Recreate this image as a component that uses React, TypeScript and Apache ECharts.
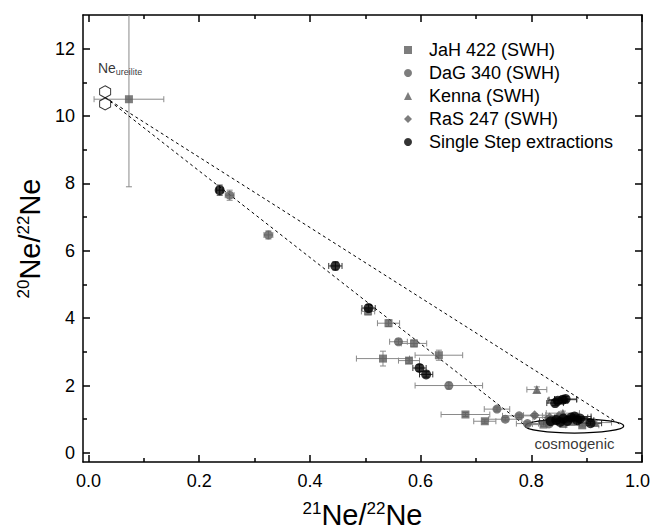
import React, { useEffect, useRef } from 'react';
import * as echarts from 'echarts';

const FONT = '"Liberation Sans", Arial, Helvetica, sans-serif';

const xMajorTicks = [0, 0.2, 0.4, 0.6, 0.8, 1.0];
const xMinorTicks = [0.1, 0.3, 0.5, 0.7, 0.9];
const yMajorTicks = [0, 2, 4, 6, 8, 10, 12];
const yMinorTicks = [1, 3, 5, 7, 9, 11];

// [21Ne/22Ne, 20Ne/22Ne, xErr, yErr]
const jah422 = [
  [0.073, 10.5, 0.063, 2.6],
  [0.505, 4.2, 0.012, 0.1],
  [0.542, 3.85, 0.02, 0.1],
  [0.588, 3.25, 0.023, 0.1],
  [0.633, 2.9, 0.043, 0.15],
  [0.532, 2.8, 0.048, 0.22],
  [0.579, 2.74, 0.019, 0.08],
  [0.681, 1.14, 0.044, 0.06],
  [0.716, 0.94, 0.02, 0.06],
  [0.822, 0.84, 0.03, 0.05],
  [0.858, 0.86, 0.04, 0.05],
  [0.892, 0.82, 0.03, 0.05],
];
const dag340 = [
  [0.255, 7.65, 0.008, 0.15],
  [0.325, 6.47, 0.008, 0.12],
  [0.56, 3.3, 0.016, 0.08],
  [0.651, 2.0, 0.061, 0.1],
  [0.738, 1.3, 0.023, 0.06],
  [0.753, 1.0, 0.03, 0.05],
  [0.778, 1.1, 0.03, 0.05],
  [0.793, 0.87, 0.02, 0.05],
  [0.832, 0.86, 0.03, 0.05],
];
const kenna = [
  [0.81, 1.88, 0.018, 0.08],
  [0.857, 1.18, 0.03, 0.06],
  [0.872, 0.95, 0.04, 0.05],
  [0.915, 0.9, 0.03, 0.05],
];
const ras247 = [
  [0.806, 1.12, 0.02, 0.05],
  [0.833, 1.05, 0.03, 0.05],
  [0.85, 1.1, 0.03, 0.05],
];
const singleStep = [
  [0.237, 7.8, 0.006, 0.15],
  [0.446, 5.55, 0.012, 0.12],
  [0.506, 4.3, 0.012, 0.1],
  [0.598, 2.52, 0.012, 0.1],
  [0.61, 2.33, 0.012, 0.08],
  [0.843, 1.48, 0.015, 0.08],
  [0.848, 1.55, 0.018, 0.08],
  [0.857, 1.58, 0.025, 0.08],
  [0.862, 1.6, 0.02, 0.08],
  [0.835, 0.94, 0.02, 0.05],
  [0.845, 0.98, 0.02, 0.05],
  [0.852, 0.92, 0.03, 0.05],
  [0.858, 1.02, 0.03, 0.05],
  [0.865, 0.95, 0.02, 0.05],
  [0.872, 1.05, 0.03, 0.05],
  [0.878, 1.08, 0.03, 0.05],
  [0.883, 0.97, 0.03, 0.05],
  [0.888, 1.02, 0.02, 0.05],
  [0.907, 0.88, 0.02, 0.05],
];

const ureiliteEndmember = [
  [0.03, 10.72],
  [0.03, 10.36],
];
const mixingUpper = [
  [0.03, 10.55],
  [0.963, 0.82],
];
const mixingLower = [
  [0.03, 10.55],
  [0.79, 0.8],
];
// center x, center y, radius x, radius y
const cosmogenicEllipse = [[0.878, 0.8, 0.089, 0.21]];
const ureiliteLabelPos = [[0.017, 11.42]];
const cosmogenicLabelPos = [[0.878, 0.28]];

const legendNames = [
  'JaH 422 (SWH)',
  'DaG 340 (SWH)',
  'Kenna (SWH)',
  'RaS 247 (SWH)',
  'Single Step extractions',
];

const GRAY = '#5c5c5c';
const ERR_GRAY = '#8a8a8a';

function errorSeries(data: number[][], color: string) {
  return {
    type: 'custom',
    silent: true,
    clip: true,
    z: 1,
    encode: { x: 0, y: 1 },
    data,
    renderItem: (_p: any, api: any) => {
      const x = api.value(0);
      const y = api.value(1);
      const ex = api.value(2);
      const ey = api.value(3);
      const c = 3;
      const style = { stroke: color, lineWidth: 1, fill: null };
      const l = api.coord([x - ex, y]);
      const r = api.coord([x + ex, y]);
      const t = api.coord([x, y + ey]);
      const b = api.coord([x, y - ey]);
      const children: any[] = [
        { type: 'line', shape: { x1: l[0], y1: l[1], x2: r[0], y2: r[1] }, style },
        { type: 'line', shape: { x1: l[0], y1: l[1] - c, x2: l[0], y2: l[1] + c }, style },
        { type: 'line', shape: { x1: r[0], y1: r[1] - c, x2: r[0], y2: r[1] + c }, style },
        { type: 'line', shape: { x1: t[0], y1: t[1], x2: b[0], y2: b[1] }, style },
        { type: 'line', shape: { x1: t[0] - c, y1: t[1], x2: t[0] + c, y2: t[1] }, style },
        { type: 'line', shape: { x1: b[0] - c, y1: b[1], x2: b[0] + c, y2: b[1] }, style },
      ];
      return { type: 'group', children };
    },
  };
}

function scatter(name: string, data: number[][], symbol: string, size: number, color: string) {
  return {
    type: 'scatter',
    name,
    symbol,
    symbolSize: size,
    z: 3,
    itemStyle: { color },
    data: data.map((d) => [d[0], d[1]]),
  };
}

const axisLineStyle = { color: '#000', width: 1.5 };

const nameRich = {
  n: { fontSize: 29, fontFamily: FONT, color: '#000' },
  s: { fontSize: 17, fontFamily: FONT, color: '#000', padding: [0, 0, 12, 0] },
};

function xAxisDef(position: string, ticks: number[], len: number, labels: boolean, line: boolean, nameOn: boolean) {
  return {
    type: 'value',
    min: -0.01,
    max: 1.0,
    position,
    splitLine: { show: false },
    axisLine: { show: line, onZero: false, lineStyle: axisLineStyle },
    axisTick: { show: true, inside: true, length: len, customValues: ticks, lineStyle: { color: '#000', width: 1.5 } },
    axisLabel: labels
      ? {
          show: true,
          customValues: ticks,
          formatter: (v: number) => (v >= 1 ? '{r|' + v.toFixed(1) + '}' : v.toFixed(1)),
          fontSize: 18,
          color: '#000',
          fontFamily: FONT,
          margin: 10,
          rich: { r: { fontSize: 18, color: '#000', fontFamily: FONT, padding: [0, 9, 0, 0] } },
        }
      : { show: false },
    name: nameOn ? '{s|21}{n|Ne/}{s|22}{n|Ne}' : '',
    nameLocation: 'middle',
    nameGap: 38,
    nameTextStyle: { fontFamily: FONT, color: '#000', rich: nameRich },
  };
}

function yAxisDef(position: string, ticks: number[], len: number, labels: boolean, line: boolean, nameOn: boolean) {
  return {
    type: 'value',
    min: -0.27,
    max: 13,
    position,
    splitLine: { show: false },
    axisLine: { show: line, onZero: false, lineStyle: axisLineStyle },
    axisTick: { show: true, inside: true, length: len, customValues: ticks, lineStyle: { color: '#000', width: 1.5 } },
    axisLabel: labels
      ? { show: true, customValues: ticks, formatter: (v: number) => String(v), fontSize: 18, color: '#000', fontFamily: FONT, margin: 8 }
      : { show: false },
    name: nameOn ? '{s|20}{n|Ne/}{s|22}{n|Ne}' : '',
    nameLocation: 'middle',
    nameGap: 38,
    nameTextStyle: { fontFamily: FONT, color: '#000', rich: nameRich },
  };
}

export default function App() {
  const ref = useRef<HTMLDivElement>(null);
  useEffect(() => {
    if (!ref.current) return;
    const chart = echarts.init(ref.current, null, { renderer: 'svg' });
    chart.setOption({
      animation: false,
      backgroundColor: '#fff',
      textStyle: { fontFamily: FONT },
      grid: { left: 83, right: 9, top: 15, bottom: 70, outerBoundsMode: 'none', containLabel: false },
      legend: {
        data: legendNames,
        orient: 'vertical',
        left: 399,
        top: 36,
        itemWidth: 8,
        itemHeight: 8,
        itemGap: 5,
        symbolKeepAspect: true,
        textStyle: { fontSize: 18, lineHeight: 18, color: '#000', fontFamily: FONT, padding: [0, 0, 0, 12] },
        selectedMode: false,
      },
      xAxis: [
        xAxisDef('bottom', xMajorTicks, 7, true, true, true),
        xAxisDef('bottom', xMinorTicks, 4, false, false, false),
        xAxisDef('top', xMajorTicks, 7, false, true, false),
        xAxisDef('top', xMinorTicks, 4, false, false, false),
      ],
      yAxis: [
        yAxisDef('left', yMajorTicks, 7, true, true, true),
        yAxisDef('left', yMinorTicks, 4, false, false, false),
        yAxisDef('right', yMajorTicks, 7, false, true, false),
        yAxisDef('right', yMinorTicks, 4, false, false, false),
      ],
      series: [
        {
          type: 'line',
          data: mixingUpper,
          symbol: 'none',
          silent: true,
          z: 2,
          lineStyle: { color: '#000', width: 1, type: [3, 3] },
        },
        {
          type: 'line',
          data: mixingLower,
          symbol: 'none',
          silent: true,
          z: 2,
          lineStyle: { color: '#000', width: 1, type: [3, 3] },
        },
        {
          type: 'custom',
          silent: true,
          z: 2,
          encode: { x: 0, y: 1 },
          data: cosmogenicEllipse,
          renderItem: (_p: any, api: any) => {
            const c = api.coord([api.value(0), api.value(1)]);
            const s = api.size([api.value(2), api.value(3)]);
            return {
              type: 'ellipse',
              shape: { cx: c[0], cy: c[1], rx: s[0], ry: s[1] },
              style: { fill: 'none', stroke: '#000', lineWidth: 1.3 },
            };
          },
        },
        errorSeries(jah422, ERR_GRAY),
        errorSeries(dag340, ERR_GRAY),
        errorSeries(kenna, ERR_GRAY),
        errorSeries(ras247, ERR_GRAY),
        errorSeries(singleStep, '#333'),
        scatter(legendNames[0], jah422, 'rect', 8, GRAY),
        scatter(legendNames[1], dag340, 'circle', 9, GRAY),
        scatter(legendNames[2], kenna, 'triangle', 9, GRAY),
        scatter(legendNames[3], ras247, 'diamond', 10, GRAY),
        scatter(legendNames[4], singleStep, 'circle', 10, '#000'),
        {
          type: 'scatter',
          silent: true,
          z: 4,
          symbol: 'path://M5,0 L10,3 L10,9 L5,12 L0,9 L0,3 Z',
          symbolSize: [11, 12],
          itemStyle: { color: '#fff', borderColor: '#000', borderWidth: 1 },
          data: ureiliteEndmember,
        },
        {
          type: 'scatter',
          silent: true,
          symbolSize: 0,
          data: ureiliteLabelPos,
          label: {
            show: true,
            position: 'right',
            distance: 0,
            color: '#000',
            formatter: '{n|Ne}{s|ureilite}',
            rich: {
              n: { fontSize: 14, color: '#000', fontFamily: FONT },
              s: { fontSize: 9, color: '#000', fontFamily: FONT, padding: [8, 0, 0, 0] },
            },
          },
        },
        {
          type: 'scatter',
          silent: true,
          symbolSize: 0,
          data: cosmogenicLabelPos,
          label: {
            show: true,
            position: 'inside',
            formatter: 'cosmogenic',
            fontSize: 15,
            color: '#000',
            fontFamily: FONT,
          },
        },
      ],
    });
    return () => chart.dispose();
  }, []);
  return <div ref={ref} style={{ position: 'fixed', left: 0, top: 0, width: 651, height: 532 }} />;
}
